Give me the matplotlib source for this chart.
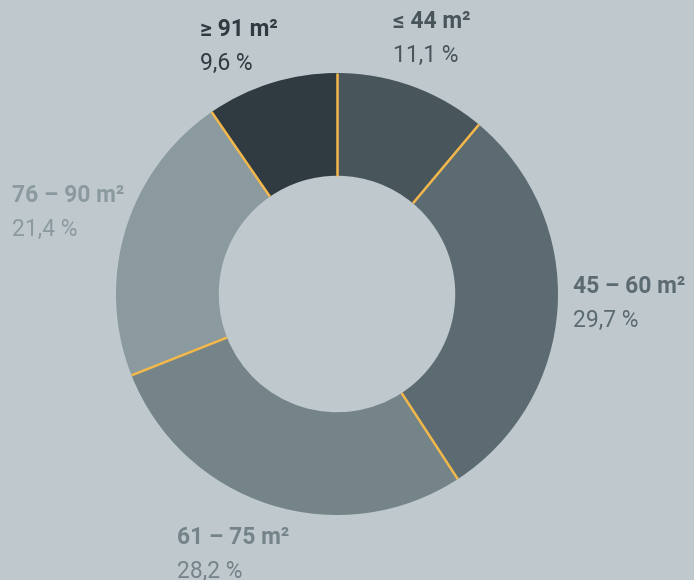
import numpy as np
import matplotlib.pyplot as plt

plt.rcParams['font.family'] = ['Roboto', 'DejaVu Sans']

# share of apartments by size
labels = ['≤ 44 m²', '45 – 60 m²', '61 – 75 m²', '76 – 90 m²', '≥ 91 m²']
shares = [11.1, 29.7, 28.2, 21.4, 9.6]
pct_text = ['11,1 %', '29,7 %', '28,2 %', '21,4 %', '9,6 %']
colors = ['#48555b', '#5c6b72', '#748489', '#8b9a9f', '#2f3a41']

bg = '#bfc9cd'
fig = plt.figure(figsize=(6.94, 5.8), dpi=100, facecolor=bg)
ax = fig.add_axes([116 / 694, 65 / 580, 442 / 694, 442 / 580])
ax.set_facecolor(bg)

hole = 0.535
wedges, _ = ax.pie(shares, colors=colors, startangle=90, counterclock=False, radius=1,
                   wedgeprops=dict(width=1 - hole, linewidth=0))

# yellow separators only along the radial edges
for w in wedges:
    a = np.deg2rad(w.theta1)
    ax.plot([hole * np.cos(a), np.cos(a)], [hole * np.sin(a), np.sin(a)],
            color='#f2b84b', lw=1.8, solid_capstyle='butt')

ax.set_xlim(-1, 1)
ax.set_ylim(-1, 1)
ax.set_aspect('equal')
ax.axis('off')

# label anchors (left edge x, title y) in pixels
pos = [(393, 22), (573, 287), (177, 538), (12, 196), (200, 30)]
for lab, pt, c, (x, y) in zip(labels, pct_text, colors, pos):
    fig.text(x / 694, 1 - y / 580, lab, color=c, fontsize=16.5, fontweight='bold',
             ha='left', va='center')
    fig.text(x / 694, 1 - (y + 33) / 580, pt, color=c, fontsize=16.5,
             ha='left', va='center')

fig.savefig('out.png', dpi=100, facecolor=bg)
